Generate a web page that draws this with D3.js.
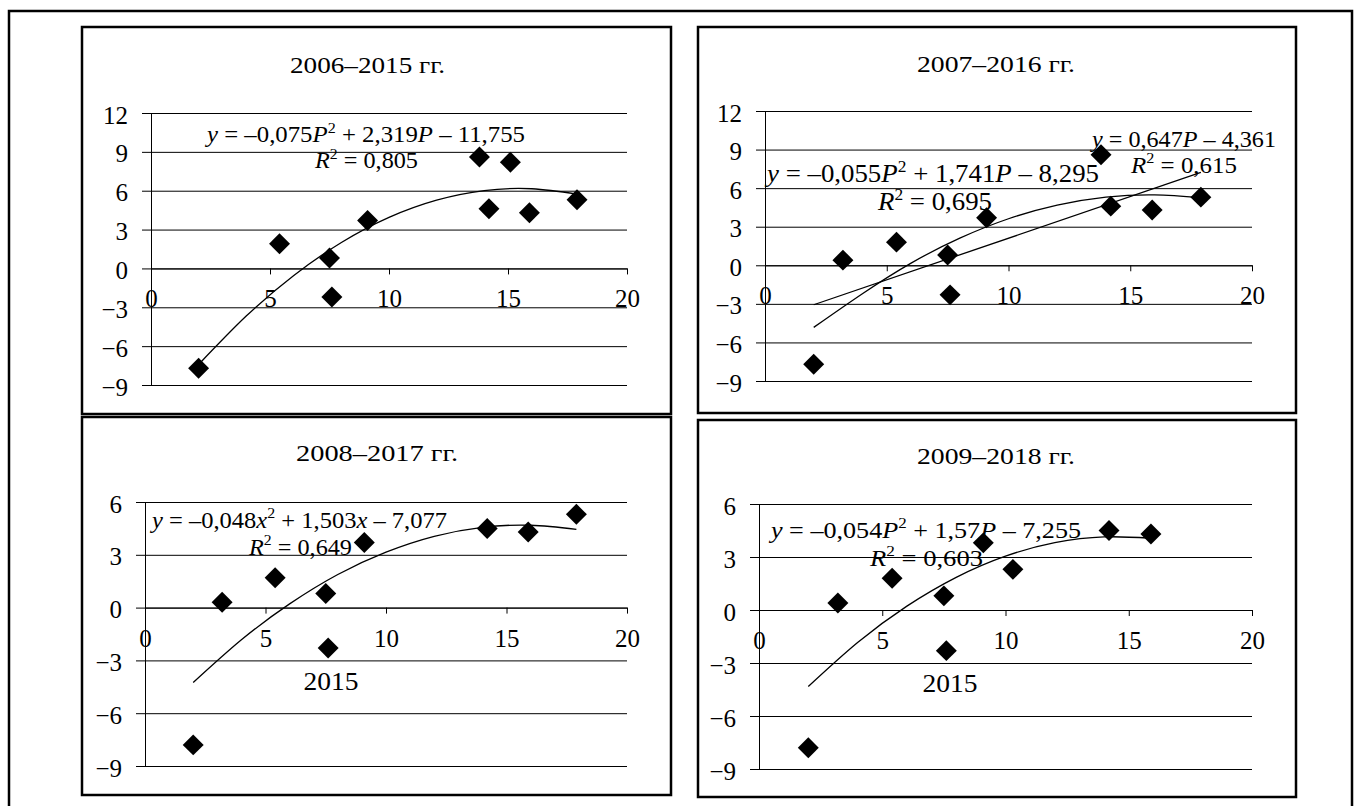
<!DOCTYPE html>
<html>
<head>
<meta charset="utf-8">
<script src="https://cdn.jsdelivr.net/npm/d3@7"></script>
<style>
  body { margin: 0; background: #fff; }
  svg { display: block; }
  text { font-family: "Liberation Serif", "Times New Roman", serif; fill: #000; }
</style>
</head>
<body>
<svg width="1361" height="806"></svg>
<script>

// Заголовки панелей
let titles = ['2006–2015 гг.', '2007–2016 гг.', '2008–2017 гг.', '2009–2018 гг.']

// Точки (P, y)
let px1 = [2.0, 5.4, 7.5, 7.6, 9.1, 13.8, 14.2, 15.1, 15.9, 17.9]
let py1 = [-7.7, 1.9, 0.8, -2.2, 3.7, 8.6, 4.6, 8.2, 4.3, 5.3]

let px2 = [2.0, 3.2, 5.4, 7.5, 7.6, 9.1, 13.8, 14.2, 15.9, 17.9]
let py2 = [-7.7, 0.4, 1.8, 0.8, -2.3, 3.7, 8.6, 4.6, 4.3, 5.3]

let px3 = [2.0, 3.2, 5.4, 7.5, 7.6, 9.1, 14.2, 15.9, 17.9]
let py3 = [-7.8, 0.3, 1.7, 0.8, -2.3, 3.7, 4.5, 4.3, 5.3]

let px4 = [2.0, 3.2, 5.4, 7.5, 7.6, 9.1, 10.3, 14.2, 15.9]
let py4 = [-7.8, 0.4, 1.8, 0.8, -2.3, 3.8, 2.3, 4.5, 4.3]

// Линии тренда
let tx1 = [2, 4, 6, 8, 10, 12, 14, 16, 17.9]
let ty1 = [-7.42, -3.68, -0.54, 2.00, 3.94, 5.27, 6.01, 6.15, 5.73]

let tx2 = [2, 4, 6, 8, 10, 12, 14, 16, 17.9]
let ty2 = [-4.83, -2.21, 0.17, 2.11, 3.62, 4.68, 5.30, 5.48, 5.25]
let tx2lin = [2, 17.9]
let ty2lin = [-3.07, 7.22]

let tx3 = [2, 4, 6, 8, 10, 12, 14, 16, 17.9]
let ty3 = [-4.26, -1.83, 0.21, 1.88, 3.15, 4.05, 4.56, 4.68, 4.45]

let tx4 = [2, 4, 6, 8, 10, 12, 14, 15.9]
let ty4 = [-4.33, -1.84, 0.22, 1.85, 3.05, 3.81, 4.14, 4.06]

// Оси
let xTicks = [0, 5, 10, 15, 20]
let yTicksTop = [12, 9, 6, 3, 0, -3, -6, -9]
let yTicksBottom = [6, 3, 0, -3, -6, -9]

// Подписи уравнений: [текст, стиль]
let eq1 = [['y', 'i'], [' = –0,075'], ['P', 'i'], ['2', 'sup'], [' + 2,319'], ['P', 'i'], [' – 11,755']]
let r1 = [['R', 'i'], ['2', 'sup'], [' = 0,805']]
let eq2q = [['y', 'i'], [' = –0,055'], ['P', 'i'], ['2', 'sup'], [' + 1,741'], ['P', 'i'], [' – 8,295']]
let r2q = [['R', 'i'], ['2', 'sup'], [' = 0,695']]
let eq2l = [['y', 'i'], [' = 0,647'], ['P', 'i'], [' – 4,361']]
let r2l = [['R', 'i'], ['2', 'sup'], [' = 0,615']]
let eq3 = [['y', 'i'], [' = –0,048'], ['x', 'i'], ['2', 'sup'], [' + 1,503'], ['x', 'i'], [' – 7,077']]
let r3 = [['R', 'i'], ['2', 'sup'], [' = 0,649']]
let eq4 = [['y', 'i'], [' = –0,054'], ['P', 'i'], ['2', 'sup'], [' + 1,57'], ['P', 'i'], [' – 7,255']]
let r4 = [['R', 'i'], ['2', 'sup'], [' = 0,603']]


let zip = (a, b) => a.map((v, i) => [v, b[i]])

let panels = [
  { title: titles[0], pts: zip(px1, py1), trends: [zip(tx1, ty1)], yTicks: yTicksTop,
    box: [82, 27, 589, 387], xr: [151, 627], yr: [385, 113], tt: [290, 73, 155],
    labels: [[eq1, 207, 142, 318, 23], [r1, 315, 168, 103, 23]] },
  { title: titles[1], pts: zip(px2, py2), trends: [zip(tx2, ty2), zip(tx2lin, ty2lin)], yTicks: yTicksTop,
    box: [698, 27, 598, 386], xr: [765, 1252], yr: [381, 111], tt: [917, 72, 158],
    labels: [[eq2l, 1092, 147, 184, 24], [r2l, 1131, 173, 106, 24],
             [eq2q, 767, 182, 332, 25], [r2q, 878, 210, 114, 25]] },
  { title: titles[2], pts: zip(px3, py3), trends: [zip(tx3, ty3)], yTicks: yTicksBottom,
    box: [82, 417, 589, 378], xr: [145, 627], yr: [766, 502], tt: [296, 461, 162],
    labels: [[eq3, 152, 528, 295, 24], [r3, 249, 555, 103, 24]], note: [331, 690] },
  { title: titles[3], pts: zip(px4, py4), trends: [zip(tx4, ty4)], yTicks: yTicksBottom,
    box: [698, 420, 598, 377], xr: [759, 1252], yr: [769, 504], tt: [917, 464, 158],
    labels: [[eq4, 771, 538, 310, 24], [r4, 870, 566, 113, 24]], note: [950, 692] }
]

let svg = d3.select('svg')

// внешняя рамка
svg.append('rect')
  .attr('x', 9).attr('y', 11).attr('width', 1343).attr('height', 820)
  .attr('fill', 'none').attr('stroke', '#000').attr('stroke-width', 2.5)

let drawText = (g, segs, x, y, w, fs) => {
  let t = g.append('text').attr('x', x).attr('y', y)
    .attr('font-size', fs)
    .attr('textLength', w).attr('lengthAdjust', 'spacingAndGlyphs')
  let up = false
  segs.forEach(s => {
    let ts = t.append('tspan').text(s[0])
    if (s[1] === 'i') ts.attr('font-style', 'italic')
    if (s[1] === 'sup') {
      ts.attr('font-size', fs * 0.65).attr('dy', -fs * 0.4)
      up = true
    } else if (up) {
      ts.attr('dy', fs * 0.4)
      up = false
    }
  })
}

panels.forEach(p => {
  let g = svg.append('g')
  let [bx, by, bw, bh] = p.box

  g.append('rect')
    .attr('x', bx).attr('y', by).attr('width', bw).attr('height', bh)
    .attr('fill', '#fff').attr('stroke', '#000').attr('stroke-width', 2.5)

  let yMax = d3.max(p.yTicks), yMin = d3.min(p.yTicks)
  let x = d3.scaleLinear().domain([0, 20]).range(p.xr)
  let y = d3.scaleLinear().domain([yMin, yMax]).range(p.yr)

  // заголовок
  g.append('text').attr('x', p.tt[0]).attr('y', p.tt[1])
    .attr('font-size', 24)
    .attr('textLength', p.tt[2]).attr('lengthAdjust', 'spacingAndGlyphs')
    .text(p.title)

  // сетка + ось Y
  let ay = g.append('g')
    .attr('transform', `translate(${x(0)},0)`)
    .call(d3.axisLeft(y).tickValues(p.yTicks).tickSizeInner(-(x(20) - x(0))).tickSizeOuter(0).tickPadding(23))
  ay.selectAll('.tick line').attr('x1', -9).attr('stroke', '#000')
  ay.select('.domain').attr('stroke', '#000')
  ay.selectAll('.tick text')
    .attr('font-size', 25).attr('fill', '#000').attr('dy', 10)

  // ось X
  let ax = g.append('g')
    .attr('transform', `translate(0,${y(0)})`)
    .call(d3.axisBottom(x).tickValues(xTicks).tickSizeInner(6).tickSizeOuter(0))
  ax.selectAll('.tick line').attr('stroke', '#000')
  ax.select('.domain').attr('stroke', '#000')
  ax.selectAll('.tick text')
    .attr('font-size', 25).attr('fill', '#000').attr('y', 39).attr('dy', 0)

  // линии тренда
  let line = d3.line().x(d => x(d[0])).y(d => y(d[1])).curve(d3.curveNatural)
  p.trends.forEach(t => {
    g.append('path').attr('d', line(t))
      .attr('fill', 'none').attr('stroke', '#000').attr('stroke-width', 1.3)
  })

  // подписи
  p.labels.forEach(l => drawText(g, l[0], l[1], l[2], l[3], l[4]))
  if (p.note) {
    g.append('text').attr('x', p.note[0]).attr('y', p.note[1])
      .attr('text-anchor', 'middle').attr('font-size', 25)
      .attr('textLength', 55).attr('lengthAdjust', 'spacingAndGlyphs')
      .text('2015')
  }

  // точки
  g.selectAll('path.pt')
    .data(p.pts)
    .enter().append('path')
    .attr('class', 'pt')
    .attr('d', d3.symbol(d3.symbolDiamond2, 280))
    .attr('transform', d => `translate(${x(d[0])},${y(d[1])})`)
    .attr('fill', '#000')
})

</script>
</body>
</html>
